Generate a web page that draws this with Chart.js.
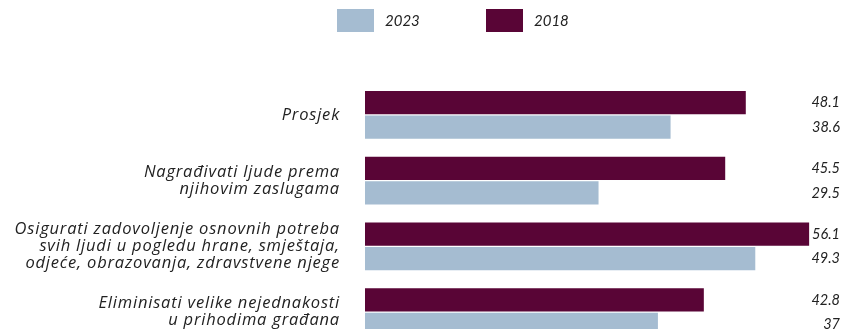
<!DOCTYPE html>
<html>
<head>
<meta charset="utf-8">
<script src="https://cdn.jsdelivr.net/npm/chart.js@4/dist/chart.umd.min.js"></script>
<style>
  html, body { margin: 0; padding: 0; background: #fff; overflow: hidden; }
</style>
</head>
<body>
<canvas id="myBarChart" width="842" height="350"></canvas>
<script>
const categories = [
    ["Prosjek"],
    ["Nagrađivati ljude prema", "njihovim zaslugama"],
    ["Osigurati zadovoljenje osnovnih potreba", "svih ljudi u pogledu hrane, smještaja,", "odjeće, obrazovanja, zdravstvene njege"],
    ["Eliminisati velike nejednakosti", "u prihodima građana"]
]
const values2018 = [48.1, 45.5, 56.1, 42.8]
const values2023 = [38.6, 29.5, 49.3, 37]

const FONT = "'Open Sans', Lato, sans-serif"
const NUM_FONT = "Lato, 'Open Sans', sans-serif"

// a little tracking on the category labels so they run wider
const labelSpacing = {
    id: "labelSpacing",
    beforeDraw(chart) { chart.ctx.letterSpacing = "0.8px" },
    beforeDatasetsDraw(chart) { chart.ctx.letterSpacing = "0px" }
}

// legend is drawn by hand so the boxes can be wide and spaced out
const legendPlugin = {
    id: "boxLegend",
    afterDraw(chart, args, opts) {
        const ctx = chart.ctx
        let x = opts.left
        ctx.save()
        ctx.font = "italic 15px " + NUM_FONT
        ctx.textBaseline = "middle"
        ctx.textAlign = "left"
        // 2023 first, then 2018
        chart.data.datasets.slice().reverse().forEach((ds) => {
            ctx.fillStyle = ds.backgroundColor
            ctx.fillRect(x, opts.top, opts.boxWidth, opts.boxHeight)
            ctx.fillStyle = "#222"
            ctx.fillText(ds.label, x + opts.boxWidth + 11, opts.top + opts.boxHeight / 2 + 1)
            x += opts.step
        })
        ctx.restore()
    }
}

// value at the right edge, level with each bar
const valueLabels = {
    id: "valueLabels",
    afterDatasetsDraw(chart) {
        const ctx = chart.ctx
        ctx.save()
        ctx.font = "italic 14.5px " + NUM_FONT
        ctx.fillStyle = "#222"
        ctx.textAlign = "right"
        ctx.textBaseline = "middle"
        chart.data.datasets.forEach((ds, i) => {
            chart.getDatasetMeta(i).data.forEach((bar, j) => {
                ctx.fillText(String(ds.data[j]), chart.chartArea.right, bar.y)
            })
        })
        ctx.restore()
    }
}

new Chart("myBarChart", {
    type: "bar",
    data: {
        labels: categories,
        datasets: [
            { label: "2018", data: values2018, backgroundColor: "#590536" },
            { label: "2023", data: values2023, backgroundColor: "#a5bcd1" }
        ]
    },
    options: {
        indexAxis: "y",
        responsive: false,
        animation: false,
        categoryPercentage: 0.745,
        barPercentage: 0.94,
        layout: { padding: { top: 82, right: 2, bottom: 5, left: 0 } },
        scales: {
            x: {
                display: false,
                min: 0,
                max: 60
            },
            y: {
                grid: { display: false, drawTicks: false },
                border: { display: false },
                ticks: {
                    padding: 25,
                    color: "#222",
                    font: { family: FONT, size: 16.5, style: "italic", lineHeight: 1.05 }
                },
                afterFit(scale) {
                    scale.width = 365
                    // multi-line labels would otherwise push the plot area in
                    scale.paddingTop = 0
                    scale.paddingBottom = 0
                }
            }
        },
        plugins: {
            legend: { display: false },
            tooltip: { enabled: false },
            boxLegend: { left: 337, top: 9, boxWidth: 37, boxHeight: 23, step: 149 }
        }
    },
    plugins: [labelSpacing, legendPlugin, valueLabels]
})
</script>
</body>
</html>
